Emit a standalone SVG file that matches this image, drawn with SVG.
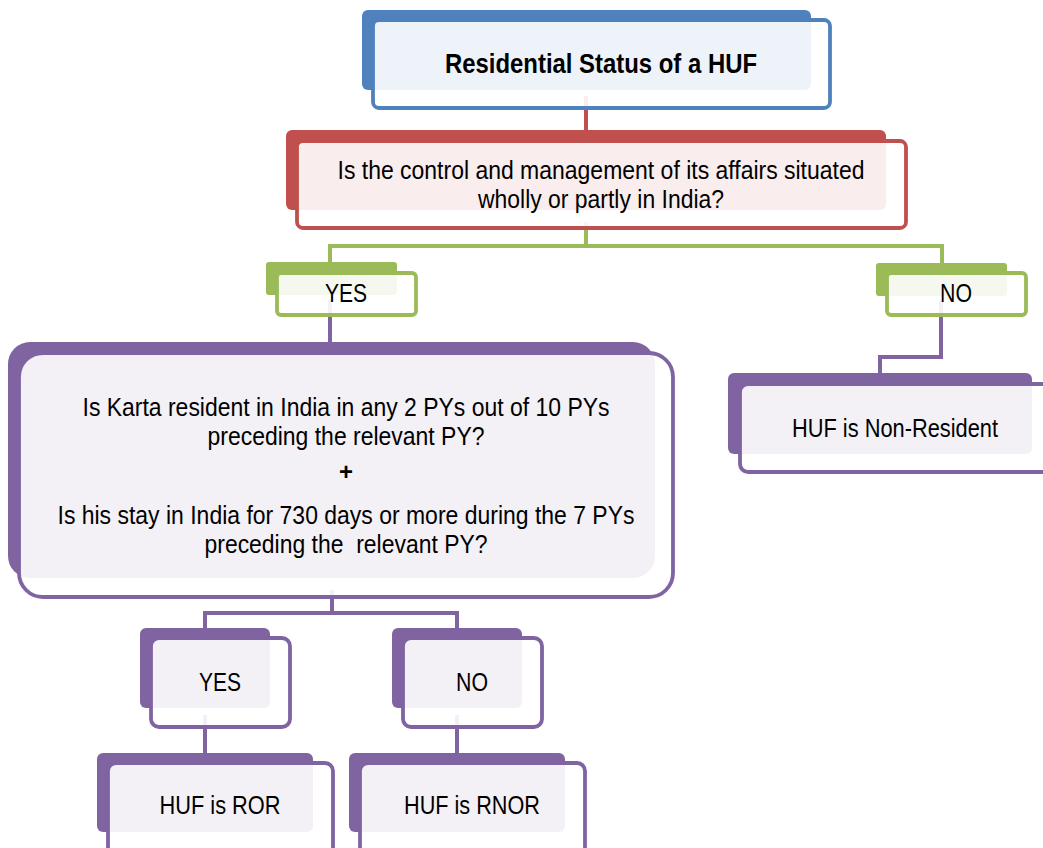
<svg xmlns="http://www.w3.org/2000/svg" width="1043" height="848" viewBox="0 0 1043 848">
<style>
.t{font-family:"Liberation Sans Narrow","Liberation Sans",Arial,sans-serif;font-size:26px;fill:#000;text-anchor:middle}
.b{font-weight:bold;font-size:28px}
.front{fill:#fff;fill-opacity:0.9;stroke-width:3.8}
.conn{fill:none;stroke-width:4}
</style>
<rect width="1043" height="848" fill="#fff"/>
<g id="connectors">
<path class="conn" stroke="#C0504D" d="M586 96V132"/>
<path class="conn" stroke="#9BBB59" d="M586 222V246H330V265M586 246H942V265"/>
<path class="conn" stroke="#8064A2" d="M330 300V345"/>
<path class="conn" stroke="#8064A2" d="M941 300V357H880V375"/>
<path class="conn" stroke="#8064A2" d="M332 590V613H205V630M332 613H457V630"/>
<path class="conn" stroke="#8064A2" d="M205 715V755"/>
<path class="conn" stroke="#8064A2" d="M457 715V755"/>
</g>
<g id="title">
<rect x="362" y="10" width="449" height="80" rx="6" fill="#4F81BD"/>
<rect class="front" x="373" y="20" width="457" height="88" rx="6" stroke="#4F81BD"/>
<text class="t b" x="601" y="73" textLength="312" lengthAdjust="spacingAndGlyphs">Residential Status of a HUF</text>
</g>
<g id="control">
<rect x="286" y="130" width="600" height="80" rx="6" fill="#C0504D"/>
<rect class="front" x="297" y="141" width="609" height="87" rx="6" stroke="#C0504D"/>
<text class="t" x="601" y="179" textLength="527" lengthAdjust="spacingAndGlyphs">Is the control and management of its affairs situated</text>
<text class="t" x="601" y="208" textLength="246" lengthAdjust="spacingAndGlyphs">wholly or partly in India?</text>
</g>
<g id="yes1">
<rect x="266" y="262" width="131" height="33" rx="3" fill="#9BBB59"/>
<rect class="front" x="277" y="273" width="139" height="42" rx="4" stroke="#9BBB59"/>
<text class="t" x="346" y="302" textLength="42" lengthAdjust="spacingAndGlyphs">YES</text>
</g>
<g id="no1">
<rect x="876" y="263" width="131" height="33" rx="3" fill="#9BBB59"/>
<rect class="front" x="887" y="273" width="139" height="42" rx="4" stroke="#9BBB59"/>
<text class="t" x="956" y="302" textLength="32" lengthAdjust="spacingAndGlyphs">NO</text>
</g>
<g id="karta">
<rect x="8" y="342" width="647" height="236" rx="22" fill="#8064A2"/>
<rect class="front" x="19" y="353" width="654" height="244" rx="24" stroke="#8064A2"/>
<text class="t" x="346" y="416" textLength="527" lengthAdjust="spacingAndGlyphs">Is Karta resident in India in any 2 PYs out of 10 PYs</text>
<text class="t" x="346" y="445" textLength="277" lengthAdjust="spacingAndGlyphs">preceding the relevant PY?</text>
<text class="t b" x="346" y="480" style="font-size:24px">+</text>
<text class="t" x="346" y="524" textLength="577" lengthAdjust="spacingAndGlyphs">Is his stay in India for 730 days or more during the 7 PYs</text>
<text class="t" x="346" y="553" textLength="283" lengthAdjust="spacingAndGlyphs" xml:space="preserve">preceding the  relevant PY?</text>
</g>
<g id="nonresident">
<rect x="728" y="373" width="304" height="81" rx="6" fill="#8064A2"/>
<rect class="front" x="740" y="384" width="320" height="88" rx="8" stroke="#8064A2"/>
<text class="t" x="895" y="437" textLength="206" lengthAdjust="spacingAndGlyphs">HUF is Non-Resident</text>
</g>
<g id="yes2">
<rect x="140" y="628" width="130" height="80" rx="6" fill="#8064A2"/>
<rect class="front" x="151" y="638" width="139" height="89" rx="8" stroke="#8064A2"/>
<text class="t" x="220" y="691" textLength="42" lengthAdjust="spacingAndGlyphs">YES</text>
</g>
<g id="no2">
<rect x="392" y="628" width="130" height="80" rx="6" fill="#8064A2"/>
<rect class="front" x="403" y="638" width="139" height="89" rx="8" stroke="#8064A2"/>
<text class="t" x="472" y="691" textLength="32" lengthAdjust="spacingAndGlyphs">NO</text>
</g>
<g id="ror">
<rect x="97" y="753" width="216" height="79" rx="6" fill="#8064A2"/>
<rect class="front" x="108" y="763" width="225" height="95" rx="8" stroke="#8064A2"/>
<text class="t" x="220" y="814" textLength="121" lengthAdjust="spacingAndGlyphs">HUF is ROR</text>
</g>
<g id="rnor">
<rect x="349" y="753" width="216" height="79" rx="6" fill="#8064A2"/>
<rect class="front" x="360" y="763" width="225" height="95" rx="8" stroke="#8064A2"/>
<text class="t" x="472" y="814" textLength="136" lengthAdjust="spacingAndGlyphs">HUF is RNOR</text>
</g>
</svg>
